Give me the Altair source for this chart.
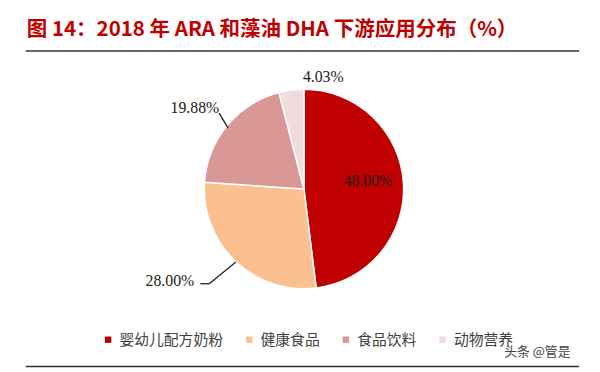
import altair as alt
import pandas as pd

categories = ["婴幼儿配方奶粉", "健康食品", "食品饮料", "动物营养"]
values = [48.00, 28.00, 19.88, 4.03]
labels = ["48.00%", "28.00%", "19.88%", "4.03%"]
colors = ["#C00000", "#FAC090", "#D99795", "#F0DCDC"]

title_text = "图 14：2018 年 ARA 和藻油 DHA 下游应用分布（%）"
watermark = "头条 @管是"

df = pd.DataFrame({
    "cat": categories,
    "value": values,
    "label": labels,
    "idx": list(range(len(categories))),
})

CX, CY, R = 300, 181, 101

color_enc = alt.Color(
    "cat:N",
    scale=alt.Scale(domain=categories, range=colors),
    sort=categories,
    legend=alt.Legend(
        title=None,
        orient="none",
        legendX=94,
        legendY=326,
        direction="horizontal",
        symbolType="square",
        symbolSize=42,
        symbolStrokeWidth=0,
        labelFont="Noto Sans CJK SC",
        labelFontSize=15,
        labelColor="#404040",
        labelOffset=4,
        columnPadding=18,
        padding=0,
    ),
)

pie = alt.Chart(df).mark_arc(outerRadius=R, stroke="white", strokeWidth=1.5).encode(
    theta=alt.Theta("value:Q", stack=True),
    color=color_enc,
    order=alt.Order("idx:Q"),
    x=alt.value(CX),
    y=alt.value(CY),
)

stacked = alt.Chart(df).transform_window(
    cum="sum(value)", sort=[alt.SortField("idx")]
).transform_joinaggregate(total="sum(value)").transform_calculate(
    mid="(datum.cum - datum.value/2) / datum.total * 2 * PI"
)

def lbl(cat, radius, dx, dy):
    return stacked.transform_filter(alt.datum.cat == cat).transform_calculate(
        px=f"{CX} + {radius} * sin(datum.mid) + {dx}",
        py=f"{CY} - {radius} * cos(datum.mid) + {dy}",
    ).mark_text(font="Liberation Serif", fontSize=16, color="#1a1a1a").encode(
        x=alt.X("px:Q", scale=None, axis=None),
        y=alt.Y("py:Q", scale=None, axis=None),
        text="label:N",
    )

labels_layer = [
    lbl("婴幼儿配方奶粉", 65, 0, -4),
    lbl("健康食品", 128, -48, 0),
    lbl("食品饮料", 128, -12, 0),
    lbl("动物营养", 114, 34, 0),
]

lines = pd.DataFrame({
    "x": [214, 195, 204],
    "y": [104, 277, 277],
    "x2": [223, 204, 231],
    "y2": [119, 277, 255],
})
leaders = alt.Chart(lines).mark_rule(color="#222", strokeWidth=1.3).encode(
    x=alt.X("x:Q", scale=None, axis=None),
    y=alt.Y("y:Q", scale=None, axis=None),
    x2="x2:Q",
    y2="y2:Q",
)

title = alt.Chart(pd.DataFrame({"t": [title_text]})).mark_text(
    font="Noto Sans CJK SC", fontSize=20.8, fontWeight="bold", color="#C00000",
    align="left", baseline="middle",
).encode(x=alt.value(19), y=alt.value(20), text="t:N")

top_rule = alt.Chart(pd.DataFrame({"a": [0]})).mark_rule(color="#333", strokeWidth=1.5).encode(
    x=alt.value(18), x2=alt.value(579), y=alt.value(41)
)
bottom_rule = alt.Chart(pd.DataFrame({"a": [0]})).mark_rule(color="#333", strokeWidth=1.5).encode(
    x=alt.value(18), x2=alt.value(579), y=alt.value(361)
)

wm = alt.Chart(pd.DataFrame({"t": [watermark]})).mark_text(
    font="Noto Sans CJK SC", fontSize=13, color="#444", align="left", baseline="middle",
).encode(x=alt.value(503), y=alt.value(346), text="t:N")

chart = alt.layer(
    pie, *labels_layer, leaders, title, top_rule, bottom_rule, wm
).properties(
    width=592, height=364,
    autosize=alt.AutoSizeParams(type="none"),
    padding=0,
).configure_view(stroke=None)

chart.save("out.html", embed_options={"renderer": "svg", "actions": False})
